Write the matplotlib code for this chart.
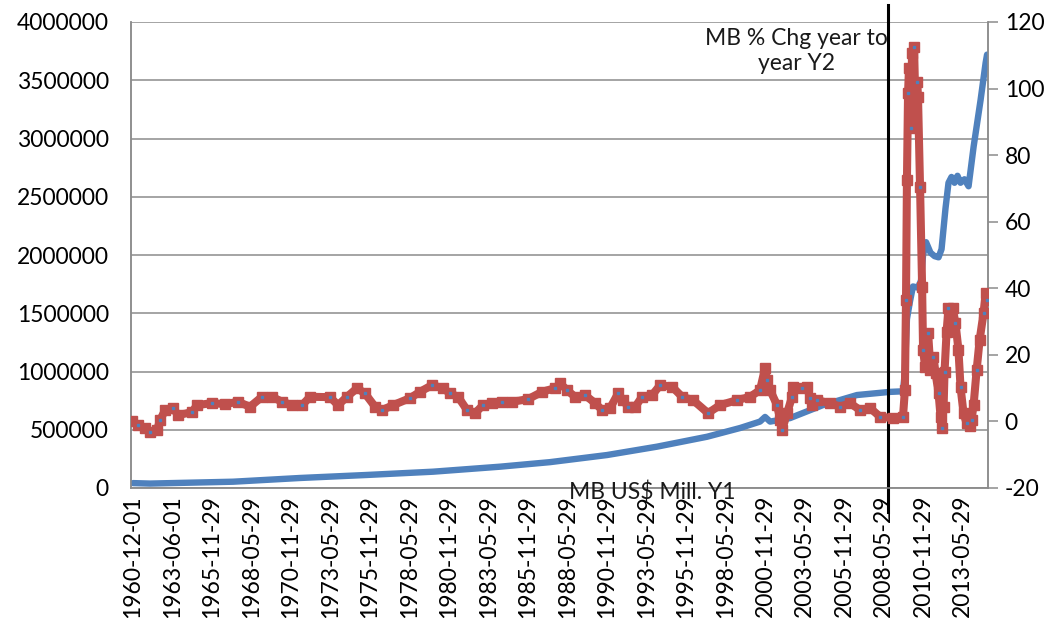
import matplotlib
matplotlib.use("Agg")
import matplotlib.pyplot as plt

plt.rcParams['font.family'] = ['Lato', 'DejaVu Sans']

# ---- data (x as decimal year position on the category axis) ----
mb_years = [1960.92, 1962.00, 1967.25, 1971.49, 1975.73, 1979.91, 1984.15, 1987.31,
            1990.92, 1994.09, 1997.25, 1999.34, 2000.60, 2000.92, 2001.24, 2002.50,
            2004.59, 2006.74, 2008.83, 2009.65, 2009.77, 2009.90, 2010.09, 2010.28,
            2010.60, 2010.79, 2010.92, 2011.11, 2011.39, 2011.65, 2011.90, 2012.09,
            2012.34, 2012.53, 2012.72, 2012.91, 2013.10, 2013.29, 2013.54, 2013.80,
            2014.12, 2014.56, 2014.88, 2014.97]
mb_level = [42000, 38000, 54000, 86000, 112000, 140000, 183000, 222000,
            283000, 355000, 440000, 515000, 570000, 610000, 570000, 600000,
            712000, 798000, 825000, 830000, 1000000, 1450000, 1600000, 1730000,
            1720000, 1780000, 2000000, 2110000, 2020000, 1990000, 1980000, 2050000,
            2400000, 2620000, 2670000, 2620000, 2680000, 2620000, 2650000, 2590000,
            2930000, 3330000, 3650000, 3720000]

chg_years = [1960.86, 1961.24, 1961.68, 1962.00, 1962.44, 1962.63, 1962.95, 1963.45,
             1963.77, 1964.65, 1964.97, 1965.92, 1966.74, 1967.57, 1968.32, 1969.08,
             1969.72, 1970.35, 1970.98, 1971.62, 1972.12, 1973.39, 1973.89, 1974.46,
             1975.10, 1975.60, 1976.24, 1976.68, 1977.38, 1978.45, 1979.08, 1979.84,
             1980.54, 1980.98, 1981.49, 1982.06, 1982.57, 1983.07, 1983.64, 1984.28,
             1984.91, 1985.92, 1986.81, 1987.63, 1987.95, 1988.39, 1988.89, 1989.53,
             1990.16, 1990.61, 1991.11, 1991.62, 1991.93, 1992.25, 1992.70, 1993.14,
             1993.77, 1994.28, 1995.04, 1995.67, 1996.36, 1997.31, 1998.07, 1999.15,
             1999.97, 2000.60, 2000.92, 2001.05, 2001.24, 2001.68, 2001.87, 2002.00,
             2002.31, 2002.63, 2002.69, 2003.26, 2003.58, 2003.77, 2003.89, 2004.21,
             2005.03, 2005.67, 2006.30, 2006.93, 2007.57, 2008.20, 2009.02, 2009.65,
             2009.77, 2009.84, 2009.90, 2009.97, 2010.03, 2010.16, 2010.22, 2010.35,
             2010.41, 2010.54, 2010.60, 2010.73, 2010.86, 2010.92, 2011.05, 2011.24,
             2011.39, 2011.58, 2011.71, 2011.90, 2012.03, 2012.09, 2012.22, 2012.28,
             2012.41, 2012.53, 2012.79, 2012.97, 2013.16, 2013.29, 2013.48, 2013.67,
             2013.86, 2013.99, 2014.12, 2014.31, 2014.50, 2014.75, 2014.88, 2014.97]
chg_pct = [0.0, -1.1, -2.0, -3.1, -2.6, 0.4, 3.4, 4.0,
           1.9, 2.8, 4.9, 5.5, 5.2, 5.9, 4.4, 7.4,
           7.4, 5.9, 4.9, 4.9, 7.4, 7.3, 4.9, 7.4,
           10.0, 8.4, 4.4, 3.4, 4.9, 7.0, 8.9, 10.9,
           10.0, 8.4, 7.4, 3.4, 2.5, 4.9, 5.5, 5.9,
           5.9, 6.7, 8.9, 10.0, 11.4, 9.4, 7.4, 7.9,
           5.5, 3.4, 4.0, 8.4, 6.4, 4.4, 4.4, 7.4,
           7.9, 10.9, 10.4, 7.4, 6.4, 2.5, 4.9, 6.4,
           7.4, 9.4, 16.0, 12.4, 9.4, 4.9, 0.4, -2.6,
           2.5, 7.4, 10.4, 10.0, 10.4, 7.0, 4.9, 6.4,
           5.5, 4.4, 5.5, 3.4, 4.0, 1.4, 1.0, 1.4,
           9.4, 36.5, 72.5, 98.7, 106.2, 88.1, 110.7, 112.5,
           100.2, 102.0, 97.5, 70.4, 40.4, 21.5, 16.4, 26.6,
           15.4, 19.4, 14.5, 8.5, 1.3, -2.0, 4.3, 15.0,
           27.0, 34.2, 34.1, 29.6, 21.5, 10.4, 2.5, -0.5,
           -1.5, 0.5, 5.0, 15.4, 24.5, 32.6, 38.6, 36.5]

tick_labels = ['1960-12-01', '1963-06-01', '1965-11-29', '1968-05-29', '1970-11-29',
               '1973-05-29', '1975-11-29', '1978-05-29', '1980-11-29', '1983-05-29',
               '1985-11-29', '1988-05-29', '1990-11-29', '1993-05-29', '1995-11-29',
               '1998-05-29', '2000-11-29', '2003-05-29', '2005-11-29', '2008-05-29',
               '2010-11-29', '2013-05-29']
left_ticks = [0, 500000, 1000000, 1500000, 2000000, 2500000, 3000000, 3500000, 4000000]
right_ticks = [-20, 0, 20, 40, 60, 80, 100, 120]
event_year = 2008.70


def date_pos(s):
    y, m, d = (int(p) for p in s.split('-'))
    return y + (m - 1) / 12 + (d - 1) / 365


tick_pos = [date_pos(s) for s in tick_labels]

BLUE = '#4F81BD'
RED = '#C0504D'
GRID = '#8C8C8C'
FS = 16.5

fig = plt.figure(figsize=(10.59, 6.34), dpi=100)
ax = fig.add_axes([131 / 1059, 1 - 488 / 634, (988 - 131) / 1059, (488 - 22) / 634])
ax2 = ax.twinx()

ax.plot(mb_years, mb_level, color=BLUE, lw=4.6, solid_capstyle='round',
        solid_joinstyle='round', zorder=3)
ax2.plot(chg_years, chg_pct, color=RED, lw=5.8, marker='s', markersize=6.5,
         mfc=RED, mec=RED, solid_joinstyle='round', solid_capstyle='round', zorder=3)
ax2.plot(chg_years[1::2], chg_pct[1::2], linestyle='none', marker='s', markersize=1.8,
         mfc=BLUE, mec=BLUE, zorder=4)

ax.set_xlim(1960.79, 2015.03)
ax.set_ylim(0, 4000000)
ax2.set_ylim(-20, 120)

ax.set_yticks(left_ticks)
ax.set_yticklabels([str(v) for v in left_ticks], fontsize=FS)
ax.tick_params(axis='y', length=0, pad=16)
ax.yaxis.grid(True, color=GRID, lw=1.1)
ax.set_axisbelow(True)

ax.set_xticks(tick_pos)
ax.set_xticklabels(tick_labels, rotation=90, fontsize=FS)
ax.tick_params(axis='x', length=0, pad=5)

ax2.set_yticks(right_ticks)
ax2.set_yticklabels([str(v) for v in right_ticks], fontsize=FS)
ax2.tick_params(axis='y', length=7, width=1.1, color=GRID, pad=5)

for a in (ax, ax2):
    for side in ('left', 'right', 'bottom'):
        a.spines[side].set_color(GRID)
        a.spines[side].set_linewidth(1.1)
    a.spines['top'].set_visible(False)

# vertical event marker line
ax.axvline(event_year, ymin=-0.0515, ymax=1.0365, color='black', lw=2.2,
           clip_on=False, zorder=5)

fig.text(796 / 1059, 1 - 51 / 634, 'MB % Chg year to\nyear Y2', ha='center', va='center',
         fontsize=FS, multialignment='center', linespacing=1.2, color='#1a1a1a')
fig.text(652 / 1059, 1 - 493 / 634, 'MB US$ Mill. Y1', ha='center', va='center',
         fontsize=FS, color='#1a1a1a')

fig.savefig('out.png', dpi=100)
